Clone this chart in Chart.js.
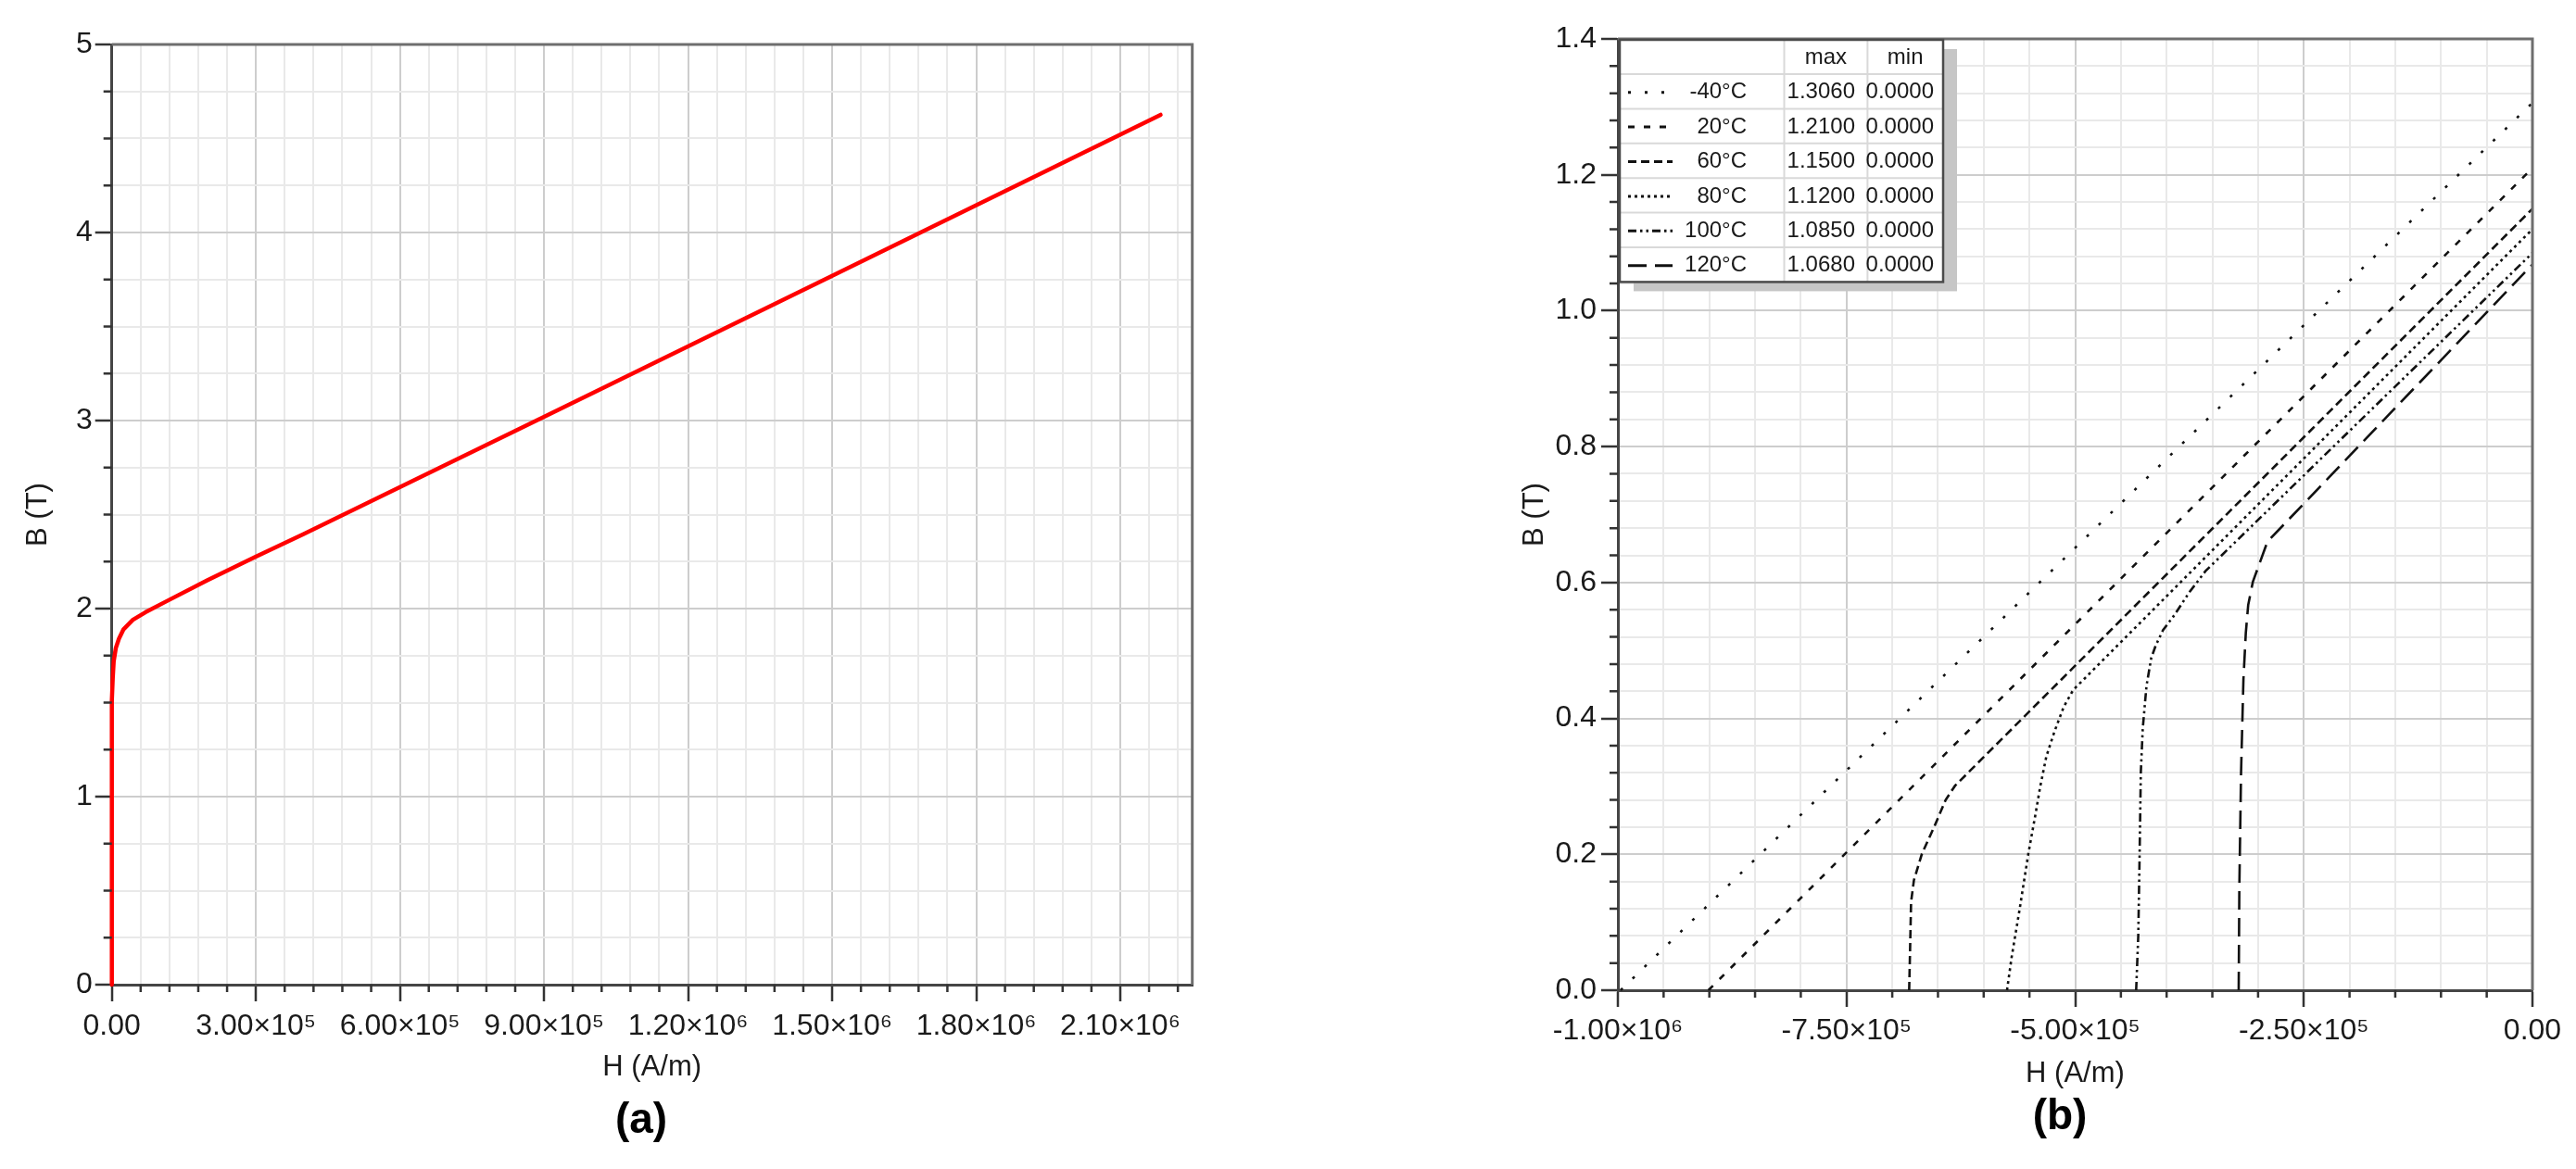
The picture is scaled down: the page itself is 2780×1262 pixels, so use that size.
<!DOCTYPE html>
<html>
<head>
<meta charset="utf-8">
<script src="https://cdn.jsdelivr.net/npm/chart.js@4.4.1/dist/chart.umd.min.js"></script>
<style>
html, body { margin: 0; padding: 0; background: #ffffff; overflow: hidden; }
#wrap { position: relative; width: 2780px; height: 1262px; }
canvas { position: absolute; top: 0; }
#c1 { left: 0px; }
#c2 { left: 1390px; }
.cap { position: absolute; transform: translate(-50%, -50%); font-family: 'Liberation Sans', Arial, sans-serif; font-weight: bold; font-size: 46px; line-height: 1; color: #000; white-space: nowrap; }
</style>
</head>
<body>
<div id="wrap">
  <canvas id="c1" width="1390" height="1262"></canvas>
  <canvas id="c2" width="1390" height="1262"></canvas>
  <div class="cap" id="capA" style="left:692px; top:1207px;"></div>
  <div class="cap" id="capB" style="left:2223px; top:1203px;"></div>
</div>
<script>
// ---------------- data ----------------
const panelCaptions = ['(a)', '(b)'];

// (a) B-H curve of the soft magnetic material
const ironH = [0, 0, 1900, 3900, 8300, 14800, 24400, 43800, 69700, 114700, 198600, 298600, 398600, 900000, 1508000, 2184000];
const ironB = [0, 1.51, 1.63, 1.72, 1.79, 1.84, 1.89, 1.94, 1.98, 2.04, 2.15, 2.275, 2.395, 3.02, 3.78, 4.626];

// (b) demagnetisation curves of the magnet
const tempNames = ['-40°C', '20°C', '60°C', '80°C', '100°C', '120°C'];
const tempMax = ['1.3060', '1.2100', '1.1500', '1.1200', '1.0850', '1.0680'];
const tempMin = ['0.0000', '0.0000', '0.0000', '0.0000', '0.0000', '0.0000'];

const hM40 = [-997000, 0];
const bM40 = [0, 1.306];
const h20 = [-901000, 0];
const b20 = [0, 1.21];
const h60 = [-681500, -680500, -679400, -676300, -667500, -654600, -641600, -631300, 0];
const b60 = [0, 0.06, 0.130, 0.162, 0.201, 0.239, 0.280, 0.301, 1.15];
const h80 = [-574500, -569400, -560500, -551200, -543500, -538300, -531500, -522800, -512500, -502100, 0];
const b80 = [0, 0.049, 0.121, 0.201, 0.258, 0.299, 0.344, 0.380, 0.417, 0.442, 1.12];
const h100 = [-433300, -431000, -429700, -428200, -426100, -422000, -416800, -411700, -403900, -391000, -375500, -357400, 0];
const b100 = [0, 0.08, 0.185, 0.321, 0.385, 0.448, 0.489, 0.508, 0.530, 0.553, 0.585, 0.617, 1.085];
const h120 = [-321200, -320500, -318600, -316000, -313400, -310800, -305700, -297900, -289800, 0];
const b120 = [0, 0.15, 0.321, 0.458, 0.526, 0.567, 0.601, 0.630, 0.660, 1.068];

// tick labels
const xMajorA = [0, 300000, 600000, 900000, 1200000, 1500000, 1800000, 2100000];
const xLabelsA = ['0.00', '3.00×10⁵', '6.00×10⁵', '9.00×10⁵', '1.20×10⁶', '1.50×10⁶', '1.80×10⁶', '2.10×10⁶'];
const yMajorA = [0, 1, 2, 3, 4, 5];
const yLabelsA = ['0', '1', '2', '3', '4', '5'];
const xMajorB = [-1000000, -750000, -500000, -250000, 0];
const xLabelsB = ['-1.00×10⁶', '-7.50×10⁵', '-5.00×10⁵', '-2.50×10⁵', '0.00'];
const yMajorB = [0, 0.2, 0.4, 0.6, 0.8, 1.0, 1.2, 1.4];
const yLabelsB = ['0.0', '0.2', '0.4', '0.6', '0.8', '1.0', '1.2', '1.4'];

const axisTitleX = 'H (A/m)';
const axisTitleY = 'B (T)';

// ---------------- helpers ----------------
document.getElementById('capA').textContent = panelCaptions[0];
document.getElementById('capB').textContent = panelCaptions[1];

const NARROW = "'Liberation Sans Narrow', 'Arial Narrow', 'Liberation Sans', Arial, sans-serif";
const REG = "'Liberation Sans', Arial, sans-serif";
const TXT = '#1a1a1a';
const MAJOR_GRID = '#cdcdcd';
const MINOR_GRID = '#e9e9e9';

function toXY(hs, bs) { return hs.map((h, i) => ({ x: h, y: bs[i] })); }
function idxOf(arr, v, tol) { return arr.findIndex(m => Math.abs(m - v) < tol); }
function stepTicks(min, max, step) {
  const n = Math.floor((max - min) / step + 1e-9);
  const out = [];
  for (let k = 0; k <= n; k++) out.push({ value: Number((min + k * step).toFixed(8)) });
  return out;
}

function makeDeco(majX, tolX, majY, tolY, tableRows) {
  return {
    id: 'deco',
    afterDraw(chart) {
      const ctx = chart.ctx, a = chart.chartArea;
      const xs = chart.scales.x, ys = chart.scales.y;
      ctx.save();
      // minor tick marks
      ctx.strokeStyle = '#333';
      ctx.lineWidth = 2.5;
      ctx.beginPath();
      xs.ticks.forEach(t => {
        if (idxOf(majX, t.value, tolX) < 0) {
          const p = xs.getPixelForValue(t.value);
          ctx.moveTo(p, a.bottom); ctx.lineTo(p, a.bottom + 8);
        }
      });
      ys.ticks.forEach(t => {
        if (idxOf(majY, t.value, tolY) < 0) {
          const p = ys.getPixelForValue(t.value);
          ctx.moveTo(a.left, p); ctx.lineTo(a.left - 9, p);
        }
      });
      ctx.stroke();
      // top and right frame
      ctx.strokeStyle = '#6e6e6e';
      ctx.lineWidth = 3;
      ctx.beginPath();
      ctx.moveTo(a.left, a.top); ctx.lineTo(a.right, a.top); ctx.lineTo(a.right, a.bottom);
      ctx.stroke();

      // legend table
      if (tableRows) {
        const L = a.left + 2, T = a.top + 1, R = L + 349, headH = 37, rowH = 37.4;
        const B = T + headH + rowH * tableRows.length;
        const c1 = L + 177.5, c2 = L + 267.4;
        ctx.fillStyle = '#c6c6c6';
        ctx.fillRect(L + 15, T + 10, R - L, B - T);
        ctx.fillStyle = '#ffffff';
        ctx.fillRect(L, T, R - L, B - T);
        ctx.strokeStyle = '#d9d9d9';
        ctx.lineWidth = 2;
        ctx.beginPath();
        for (let i = 0; i < tableRows.length; i++) {
          const y = T + headH + rowH * i;
          ctx.moveTo(L, y); ctx.lineTo(R, y);
        }
        ctx.moveTo(c1, T); ctx.lineTo(c1, B);
        ctx.moveTo(c2, T); ctx.lineTo(c2, B);
        ctx.stroke();
        ctx.strokeStyle = '#4a4a4a';
        ctx.lineWidth = 2.5;
        ctx.strokeRect(L, T, R - L, B - T);
        ctx.fillStyle = TXT;
        ctx.font = "24px " + NARROW;
        ctx.textBaseline = 'middle';
        ctx.textAlign = 'center';
        ctx.fillText('max', (c1 + c2) / 2, T + headH / 2 + 1);
        ctx.fillText('min', (c2 + R) / 2, T + headH / 2 + 1);
        tableRows.forEach((row, i) => {
          const cy = T + headH + rowH * i + rowH / 2 + 1;
          const ds = chart.data.datasets[row.ds];
          ctx.save();
          ctx.strokeStyle = ds.borderColor;
          ctx.lineWidth = 3;
          ctx.setLineDash(ds.borderDash || []);
          ctx.beginPath();
          ctx.moveTo(L + 9, cy); ctx.lineTo(L + 57, cy);
          ctx.stroke();
          ctx.restore();
          ctx.fillStyle = TXT;
          ctx.textAlign = 'right';
          ctx.fillText(ds.label, L + 137, cy);
          ctx.fillText(row.max, L + 254, cy);
          ctx.fillText(row.min, L + 339, cy);
        });
      }
      ctx.restore();
    }
  };
}

function scaleSet(cfg) {
  return {
    x: {
      type: 'linear', position: 'bottom', min: cfg.xmin, max: cfg.xmax,
      afterBuildTicks: s => { s.ticks = stepTicks(cfg.xmin, cfg.xmax, cfg.xstep); },
      afterFit: s => { s.height = cfg.xh; },
      grid: {
        color: c => (c.tick && idxOf(cfg.majX, c.tick.value, cfg.tolX) >= 0) ? MAJOR_GRID : MINOR_GRID,
        lineWidth: 2, drawTicks: true, tickLength: 18, tickWidth: 2.5,
        tickColor: c => (c.tick && idxOf(cfg.majX, c.tick.value, cfg.tolX) >= 0) ? '#333' : 'rgba(0,0,0,0)'
      },
      border: { display: true, color: '#454545', width: 3 },
      ticks: {
        autoSkip: false, maxRotation: 0, minRotation: 0,
        padding: cfg.xpad, color: TXT, font: { family: NARROW, size: cfg.xfs },
        callback: v => { const i = idxOf(cfg.majX, v, cfg.tolX); return i >= 0 ? cfg.labX[i] : ''; }
      },
      title: { display: true, text: axisTitleX, color: TXT, font: { family: REG, size: cfg.tfs, lineHeight: 1 }, padding: { top: 0, bottom: cfg.xtpad } }
    },
    y: {
      type: 'linear', position: 'left', min: cfg.ymin, max: cfg.ymax,
      afterBuildTicks: s => { s.ticks = stepTicks(cfg.ymin, cfg.ymax, cfg.ystep); },
      afterFit: s => { s.width = cfg.yw; },
      grid: {
        color: c => (c.tick && idxOf(cfg.majY, c.tick.value, cfg.tolY) >= 0) ? MAJOR_GRID : MINOR_GRID,
        lineWidth: 2, drawTicks: true, tickLength: 18, tickWidth: 2.5,
        tickColor: c => (c.tick && idxOf(cfg.majY, c.tick.value, cfg.tolY) >= 0) ? '#333' : 'rgba(0,0,0,0)'
      },
      border: { display: true, color: '#454545', width: 3 },
      ticks: {
        autoSkip: false,
        padding: cfg.ypad, color: TXT, font: { family: NARROW, size: cfg.yfs },
        callback: v => { const i = idxOf(cfg.majY, v, cfg.tolY); return i >= 0 ? cfg.labY[i] : ''; }
      },
      title: { display: true, text: axisTitleY, color: TXT, font: { family: REG, size: cfg.tfs, lineHeight: 1 }, padding: { top: cfg.ytpad, bottom: 0 } }
    }
  };
}

const common = {
  responsive: false, animation: false, devicePixelRatio: 1,
  plugins: { legend: { display: false }, tooltip: { enabled: false }, title: { display: false } },
  elements: { point: { radius: 0, hoverRadius: 0 }, line: { tension: 0 } }
};

// ---------------- chart (a) ----------------
new Chart(document.getElementById('c1'), {
  type: 'line',
  data: {
    datasets: [{
      label: 'B-H', data: toXY(ironH, ironB), borderColor: '#ff0000', borderWidth: 4.5,
      fill: false, clip: false, borderJoinStyle: 'round', borderCapStyle: 'round'
    }]
  },
  options: Object.assign({}, common, {
    layout: { padding: { left: 0, top: 48, right: 103.3, bottom: 78 } },
    scales: scaleSet({
      xmin: 0, xmax: 2250000, xstep: 60000, majX: xMajorA, labX: xLabelsA, tolX: 1,
      ymin: 0, ymax: 5, ystep: 0.25, majY: yMajorA, labY: yLabelsA, tolY: 1e-6,
      xh: 121, yw: 120.7, xpad: 8, ypad: 3, xfs: 32, yfs: 32, tfs: 31, xtpad: 16, ytpad: 26
    })
  }),
  plugins: [makeDeco(xMajorA, 1, yMajorA, 1e-6, null)]
});

// ---------------- chart (b) ----------------
const dashes = [[3, 15], [7, 10], [9, 5], [3, 4], [9, 4, 2.5, 4, 2.5, 4], [20, 9]];
const hSets = [hM40, h20, h60, h80, h100, h120];
const bSets = [bM40, b20, b60, b80, b100, b120];
new Chart(document.getElementById('c2'), {
  type: 'line',
  data: {
    datasets: tempNames.map((n, i) => ({
      label: n, data: toXY(hSets[i], bSets[i]), borderColor: '#111111', borderWidth: 2.6,
      borderDash: dashes[i], borderCapStyle: 'butt', fill: false, clip: 4
    }))
  },
  options: Object.assign({}, common, {
    layout: { padding: { left: 0, top: 42, right: 47, bottom: 82 } },
    scales: scaleSet({
      xmin: -1000000, xmax: 0, xstep: 50000, majX: xMajorB, labX: xLabelsB, tolX: 1,
      ymin: 0, ymax: 1.4, ystep: 0.04, majY: yMajorB, labY: yLabelsB, tolY: 1e-6,
      xh: 111, yw: 356, xpad: 7, ypad: 5, xfs: 32, yfs: 32, tfs: 31, xtpad: 5, ytpad: 251
    })
  }),
  plugins: [makeDeco(xMajorB, 1, yMajorB, 1e-6, tempNames.map((n, i) => ({ ds: i, max: tempMax[i], min: tempMin[i] })))]
});
</script>
</body>
</html>
